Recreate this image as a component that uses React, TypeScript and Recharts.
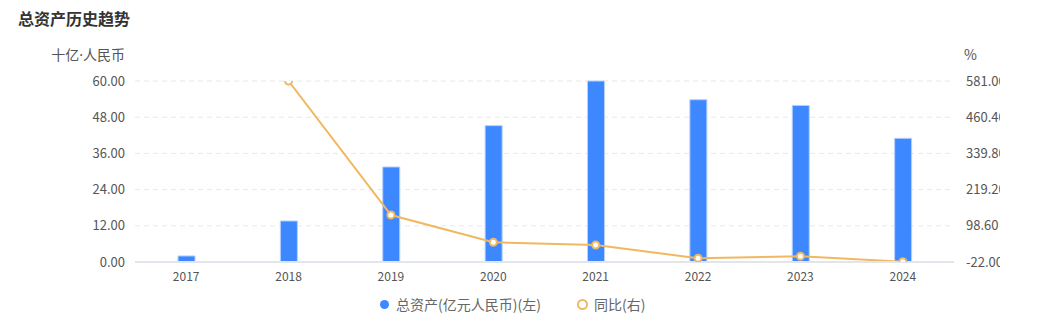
import React from "react";
import {
  ComposedChart,
  Bar,
  Line,
  XAxis,
  YAxis,
  CartesianGrid,
} from "recharts";

const years = ["2017", "2018", "2019", "2020", "2021", "2022", "2023", "2024"];
const totalAssets = [2.0, 13.6, 31.5, 45.2, 60.0, 53.8, 51.9, 41.0];
const yoyGrowth: (number | null)[] = [null, 581.0, 134.5, 43.8, 34.5, -9.5, -3.0, -21.0];
const leftTicks = [0, 12, 24, 36, 48, 60];
const rightTicks = [-22, 98.6, 219.2, 339.8, 460.4, 581];

const data = years.map((y, i) => ({
  year: y,
  assets: totalAssets[i],
  yoy: yoyGrowth[i],
}));

const FONT = '"Noto Sans CJK SC", "Noto Sans", sans-serif';
const BLUE = "#3d88ff";
const ORANGE = "#f0b860";

const LegendContent = () => (
  <div
    style={{
      position: "absolute",
      left: 380,
      top: 295,
      display: "flex",
      alignItems: "center",
      fontFamily: FONT,
      fontSize: 14,
      color: "#666",
      lineHeight: "18px",
      whiteSpace: "nowrap",
    }}
  >
    <span style={{ display: "flex", alignItems: "center", marginRight: 36 }}>
      <span
        style={{
          width: 9,
          height: 9,
          borderRadius: "50%",
          background: BLUE,
          display: "inline-block",
          marginRight: 7,
        }}
      />
      总资产(亿元人民币)(左)
    </span>
    <span style={{ display: "flex", alignItems: "center" }}>
      <span
        style={{
          width: 7,
          height: 7,
          borderRadius: "50%",
          border: `2px solid ${ORANGE}`,
          background: "#fff",
          display: "inline-block",
          marginRight: 6,
        }}
      />
      同比(右)
    </span>
  </div>
);

export default function App() {
  return (
    <div
      style={{
        position: "absolute",
        left: 0,
        top: 0,
        width: 1039,
        height: 322,
        background: "#fff",
        fontFamily: FONT,
        overflow: "hidden",
      }}
    >
      <div
        style={{
          position: "absolute",
          left: 18,
          top: 7,
          fontSize: 16,
          fontWeight: 700,
          color: "#333",
          lineHeight: "22px",
        }}
      >
        总资产历史趋势
      </div>
      <div
        style={{
          position: "absolute",
          right: 1039 - 125,
          top: 45,
          fontSize: 14,
          color: "#555",
          lineHeight: "18px",
          whiteSpace: "nowrap",
        }}
      >
        十亿
        <span style={{ fontFamily: '"Noto Sans", sans-serif' }}>·</span>
        人民币
      </div>
      <div
        style={{
          position: "absolute",
          left: 964,
          top: 45,
          fontSize: 14,
          color: "#555",
          lineHeight: "18px",
        }}
      >
        %
      </div>
      <div
        style={{
          position: "absolute",
          left: 0,
          top: 0,
          width: 1000,
          height: 322,
          overflow: "hidden",
        }}
      >
        <ComposedChart
          width={1039}
          height={322}
          data={data}
          margin={{ top: 81, right: 0, bottom: 30, left: 0 }}
          barCategoryGap={0}
        >
          <CartesianGrid
            yAxisId="left"
            vertical={false}
            stroke="#e8e8e8"
            strokeDasharray="5 4"
          />
          <XAxis
            dataKey="year"
            axisLine={{ stroke: "#e3e5ec", strokeWidth: 2 }}
            tickLine={false}
            tick={{ fontSize: 12, fill: "#555", fontFamily: FONT }}
            tickMargin={4}
            height={30}
          />
          <YAxis
            yAxisId="left"
            orientation="left"
            width={135}
            domain={[0, 60]}
            ticks={leftTicks}
            tickFormatter={(v: number) => v.toFixed(2)}
            axisLine={false}
            tickLine={false}
            tickMargin={4}
            tick={{ fontSize: 13, fill: "#555", fontFamily: FONT }}
          />
          <YAxis
            yAxisId="right"
            orientation="right"
            width={85}
            domain={[-22, 581]}
            ticks={rightTicks}
            tickFormatter={(v: number) => v.toFixed(2)}
            axisLine={false}
            tickLine={false}
            tickMargin={6}
            tick={{ fontSize: 13, fill: "#555", fontFamily: FONT }}
            allowDataOverflow
          />
          <Bar
            yAxisId="left"
            dataKey="assets"
            barSize={17}
            fill={BLUE}
            stroke="#b3d0ff"
            strokeWidth={1}
            isAnimationActive={false}
          />
          <Line
            yAxisId="right"
            dataKey="yoy"
            stroke={ORANGE}
            strokeWidth={2}
            dot={{ r: 3.5, fill: "#fff", stroke: ORANGE, strokeWidth: 2 }}
            activeDot={false}
            isAnimationActive={false}
          />
        </ComposedChart>
      </div>
      <LegendContent />
    </div>
  );
}
